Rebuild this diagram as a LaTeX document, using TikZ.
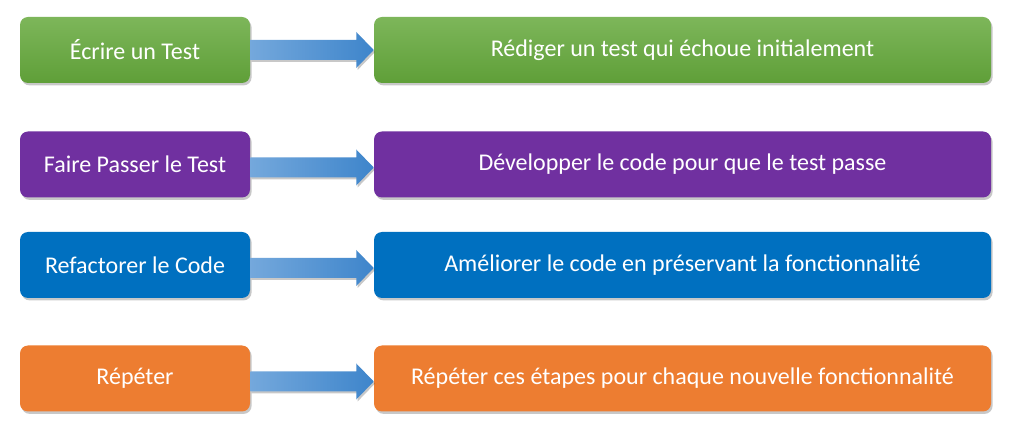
\documentclass[tikz,border=0pt]{standalone}
\usepackage{fontspec}
\setmainfont{Carlito}
\usetikzlibrary{shadows,calc}
\definecolor{grtop}{HTML}{7DB65A}
\definecolor{grbot}{HTML}{5F9F38}
\definecolor{purp}{HTML}{7030A0}
\definecolor{blu}{HTML}{0070C0}
\definecolor{orng}{HTML}{ED7D31}
\definecolor{arrL}{HTML}{74A8DC}
\definecolor{arrR}{HTML}{3E85CB}
\tikzset{
  boxbase/.style={rounded corners=6pt, inner sep=0pt, text=white,
    font=\fontsize{18}{20}\selectfont,
    drop shadow={shadow xshift=1.2pt, shadow yshift=-1.8pt, opacity=0.3, fill=black!70}},
  leftbox/.style={boxbase, minimum width=172.5pt, minimum height=49.5pt},
  rightbox/.style={boxbase, minimum width=462.75pt, minimum height=49.5pt},
  greenfill/.style={top color=grtop, bottom color=grbot},
  arrowfill/.style={left color=arrL, right color=arrR,
    drop shadow={shadow xshift=1pt, shadow yshift=-1.5pt, opacity=0.3, fill=black!70}},
}
\newcommand{\flowarrow}[3]{%
  \path (#1.east) ++(0,#3) coordinate (#1s);
  \path (#2.west) ++(0,#3) coordinate (#1t);
  \shade[arrowfill] ($(#1s)+(0,-10)$) -- ($(#1s)+(106,-10)$) -- ($(#1s)+(106,-18)$)
    -- (#1t) -- ($(#1s)+(106,18)$) -- ($(#1s)+(106,10)$) -- ($(#1s)+(0,10)$) -- cycle;
}
\begin{document}
\begin{tikzpicture}[x=0.75pt,y=-0.75pt]
\useasboundingbox (0,0) rectangle (1015,438);
\fill[white] (0,0) rectangle (1015,438);
\node[leftbox, greenfill] (l1) at (135,50) {Écrire un Test};
\node[rightbox, greenfill] (r1) at (682.5,50) {Rédiger un test qui échoue initialement};
\node[leftbox, fill=purp] (l2) at (135,164.5) {Faire Passer le Test};
\node[rightbox, fill=purp] (r2) at (682.5,164.5) {Développer le code pour que le test passe};
\node[leftbox, fill=blu] (l3) at (135,265) {Refactorer le Code};
\node[rightbox, fill=blu] (r3) at (682.5,265) {Améliorer le code en préservant la fonctionnalité};
\node[leftbox, fill=orng] (l4) at (135,378.5) {Répéter};
\node[rightbox, fill=orng] (r4) at (682.5,378.5) {Répéter ces étapes pour chaque nouvelle fonctionnalité};
\flowarrow{l1}{r1}{0}
\flowarrow{l2}{r2}{3}
\flowarrow{l3}{r3}{3}
\flowarrow{l4}{r4}{3}
\end{tikzpicture}
\end{document}
